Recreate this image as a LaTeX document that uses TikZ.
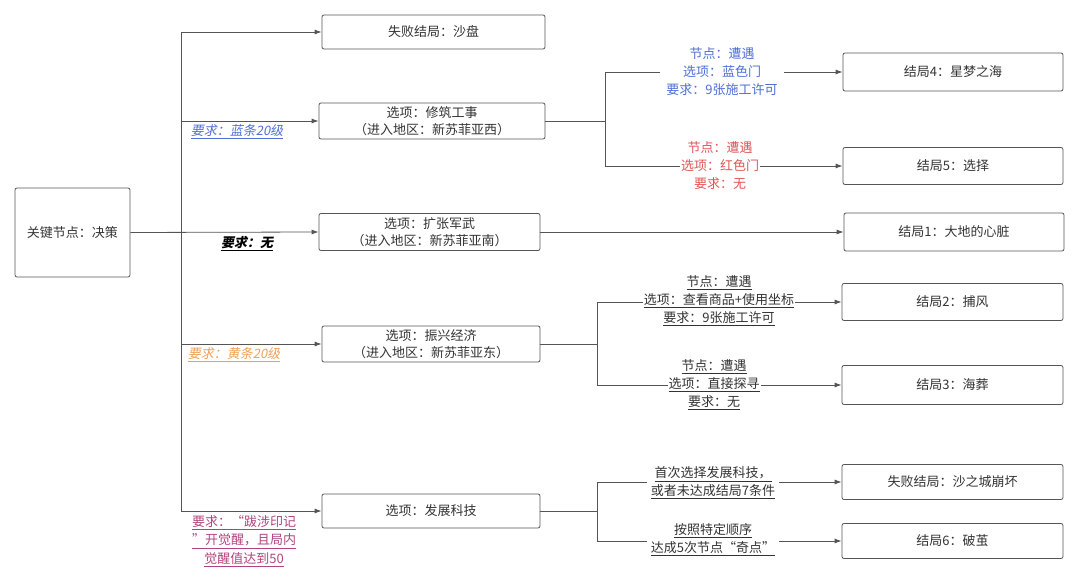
\documentclass[tikz,border=0pt]{standalone}
\usepackage{fontspec}
\setmainfont{Noto Sans CJK SC}
\newfontfamily\cjkit{Noto Sans CJK SC}[FakeSlant=0.2]
\usetikzlibrary{arrows.meta}
\definecolor{edge}{HTML}{555555}
\definecolor{txt}{HTML}{333333}
\definecolor{lblue}{HTML}{4F6FD6}
\definecolor{lred}{HTML}{E05555}
\definecolor{lorange}{HTML}{EFA055}
\definecolor{lmag}{HTML}{B0447E}
\tikzset{
  x=1pt,y=-1pt,
  box/.style={draw=edge,line width=0.8pt,rounded corners=2pt,inner sep=0pt,
    text=txt,align=center,font=\fontsize{13}{17}\selectfont},
  conn/.style={draw=edge,line width=0.8pt,-{Latex[length=7pt,width=5pt]}},
  plain/.style={draw=edge,line width=0.8pt},
  lbl/.style={fill=white,inner sep=1pt,align=center,font=\fontsize{13}{18}\selectfont},
  llbl/.style={inner sep=1pt,align=center,font=\fontsize{13}{19}\cjkit},
}
\begin{document}
\begin{tikzpicture}
\useasboundingbox (0,0) rectangle (1080,585);
% nodes
\node[box,minimum width=115pt,minimum height=89pt] (root) at (72.5,232.5) {关键节点：决策};
\node[box,minimum width=223pt,minimum height=34pt] (n1) at (433.5,32) {失败结局：沙盘};
\node[box,minimum width=226pt,minimum height=36pt] (n2) at (432,121) {选项：修筑工事\\（进入地区：新苏菲亚西）};
\node[box,minimum width=221pt,minimum height=37pt] (n3) at (429.5,232) {选项：扩张军武\\（进入地区：新苏菲亚南）};
\node[box,minimum width=218pt,minimum height=36pt] (n4) at (431,344) {选项：振兴经济\\（进入地区：新苏菲亚东）};
\node[box,minimum width=218pt,minimum height=34pt] (n5) at (431,511) {选项：发展科技};
\node[box,minimum width=220pt,minimum height=38pt] (e4) at (953,72) {结局4：星梦之海};
\node[box,minimum width=220pt,minimum height=37pt] (e5) at (953,166) {结局5：选择};
\node[box,minimum width=220pt,minimum height=38pt] (e1) at (954,232) {结局1：大地的心脏};
\node[box,minimum width=221pt,minimum height=37pt] (e2) at (952.5,302) {结局2：捕风};
\node[box,minimum width=221pt,minimum height=39pt] (e3) at (952.5,385) {结局3：海葬};
\node[box,minimum width=221pt,minimum height=35pt] (ef) at (952.5,482) {失败结局：沙之城崩坏};
\node[box,minimum width=221pt,minimum height=35pt] (e6) at (952.5,541) {结局6：破茧};
% junctions
\coordinate (tA) at (181,232);
\coordinate (jB) at (605,121);
\coordinate (jD) at (597,344);
\coordinate (jE) at (597,511);
% trunk
\draw[conn] (root.east) -- (n3.west);
\draw[conn] (tA) |- (n1.west);
\draw[conn] (tA) |- (n2.west);
\draw[conn] (tA) |- (n4.west);
\draw[conn] (tA) |- (n5.west);
% right branches
\draw[plain] (n2.east) -- (jB);
\draw[conn] (jB) |- (e4.west);
\draw[conn] (jB) |- (e5.west);
\draw[conn] (n3.east) -- (e1.west);
\draw[plain] (n4.east) -- (jD);
\draw[conn] (jD) |- (e2.west);
\draw[conn] (jD) |- (e3.west);
\draw[plain] (n5.east) -- (jE);
\draw[conn] (jE) |- (ef.west);
\draw[conn] (jE) |- (e6.west);
% left labels
\node[llbl,text=lblue] (l2) at (237,132) {\underline{要求：蓝条20级}};
\node[llbl,text=black] (l3) at (247,244) {\underline{\bfseries 要求：无}};
\node[llbl,text=lorange] (l4) at (234,355) {\underline{要求：黄条20级}};
\node[inner sep=1pt,align=center,font=\fontsize{13}{18.5}\selectfont,text=lmag] (l5) at (244,541)
  {\underline{要求：“跋涉印记}\\\underline{”开觉醒，且局内}\\\underline{觉醒值达到50}};
% right labels
\node[lbl,text=lblue,inner xsep=6pt] (r4) at (722,72) {节点：遭遇\\选项：蓝色门\\要求：9张施工许可};
\node[lbl,text=lred] (r5) at (720,166) {节点：遭遇\\选项：红色门\\要求：无};
\node[lbl,text=txt] (r2) at (719,301) {\underline{节点：遭遇}\\\underline{选项：查看商品+使用坐标}\\\underline{要求：9张施工许可}};
\node[lbl,text=txt] (r3) at (714,385) {\underline{节点：遭遇}\\\underline{选项：直接探寻}\\\underline{要求：无}};
\node[lbl,text=txt,inner xsep=4pt] (rf) at (713,483) {\underline{首次选择发展科技，}\\\underline{或者未达成结局7条件}};
\node[lbl,text=txt,inner xsep=4pt] (r6) at (713,540) {\underline{按照特定顺序}\\\underline{达成5次节点“奇点”}};
\end{tikzpicture}
\end{document}
